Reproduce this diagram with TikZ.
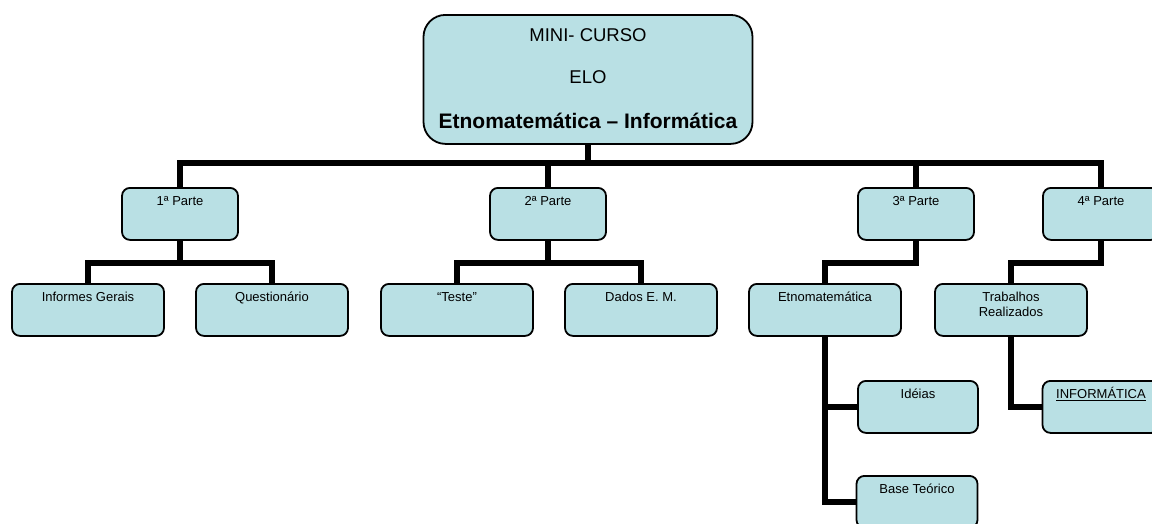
\documentclass[tikz,border=0pt]{standalone}
\usepackage{fontspec}
\setmainfont{Liberation Sans}
\usepackage{tikz}
\definecolor{azul}{RGB}{185,224,228}

\begin{document}
\begin{tikzpicture}[x=1pt,y=-1pt,
    caixa/.style={draw,line width=1.8pt,fill=azul,rounded corners=8pt,inner sep=0pt,
      anchor=north,align=center,text height=18pt,text depth=34pt,
      font=\fontsize{13}{15}\selectfont},
    liga/.style={line width=6pt}]
  \useasboundingbox (0,0) rectangle (1152,523);
  % topo
  \node[caixa,minimum width=329pt,rounded corners=22pt,text height=114pt,text depth=15pt,
    font=\fontsize{18.5}{22}\selectfont] (topo) at (588,14)
    {MINI- CURSO\\[20pt]ELO\\[23pt]{\bfseries\fontsize{21}{25}\selectfont Etnomatemática – Informática}};
  % partes
  \node[caixa,minimum width=116pt] (p1) at (180,187) {1ª Parte};
  \node[caixa,minimum width=116pt] (p2) at (548,187) {2ª Parte};
  \node[caixa,minimum width=116pt] (p3) at (916,187) {3ª Parte};
  \node[caixa,minimum width=116pt] (p4) at (1101,187) {4ª Parte};
  % segundo nivel
  \node[caixa,minimum width=152pt] (inf) at (88,283) {Informes Gerais};
  \node[caixa,minimum width=152pt] (quest) at (272,283) {Questionário};
  \node[caixa,minimum width=152pt] (teste) at (457,283) {“Teste”};
  \node[caixa,minimum width=152pt] (dados) at (641,283) {Dados E. M.};
  \node[caixa,minimum width=152pt] (etno) at (825,283) {Etnomatemática};
  \node[caixa,minimum width=152pt,text height=33pt,text depth=19pt] (trab) at (1011,283) {Trabalhos\\Realizados};
  % terceiro nivel
  \node[caixa,minimum width=120pt] (ideias) at (918,380) {Idéias};
  \node[caixa,minimum width=121pt] (base) at (917,475) {Base Teórico};
  \node[caixa,minimum width=117pt] (info) at (1101,380) {\underline{INFORMÁTICA}};
  % ligacoes
  \coordinate (barra) at (588,163);
  \draw[liga] (topo.south) -- (barra);
  \draw[liga] (p1.north) |- (barra) -| (p4.north);
  \draw[liga] (p2.north) |- (barra);
  \draw[liga] (p3.north) |- (barra);
  \draw[liga] (p1.south) -- ++(0,22) coordinate (b1);
  \draw[liga] (inf.north) |- (b1) -| (quest.north);
  \draw[liga] (p2.south) -- ++(0,22) coordinate (b2);
  \draw[liga] (teste.north) |- (b2) -| (dados.north);
  \draw[liga] (p3.south) -- ++(0,22) -| (etno.north);
  \draw[liga] (p4.south) -- ++(0,22) -| (trab.north);
  \draw[liga] (etno.south) |- (base.west);
  \draw[liga] (ideias.west) -| (etno.south);
  \draw[liga] (trab.south) |- (info.west);
\end{tikzpicture}
\end{document}
